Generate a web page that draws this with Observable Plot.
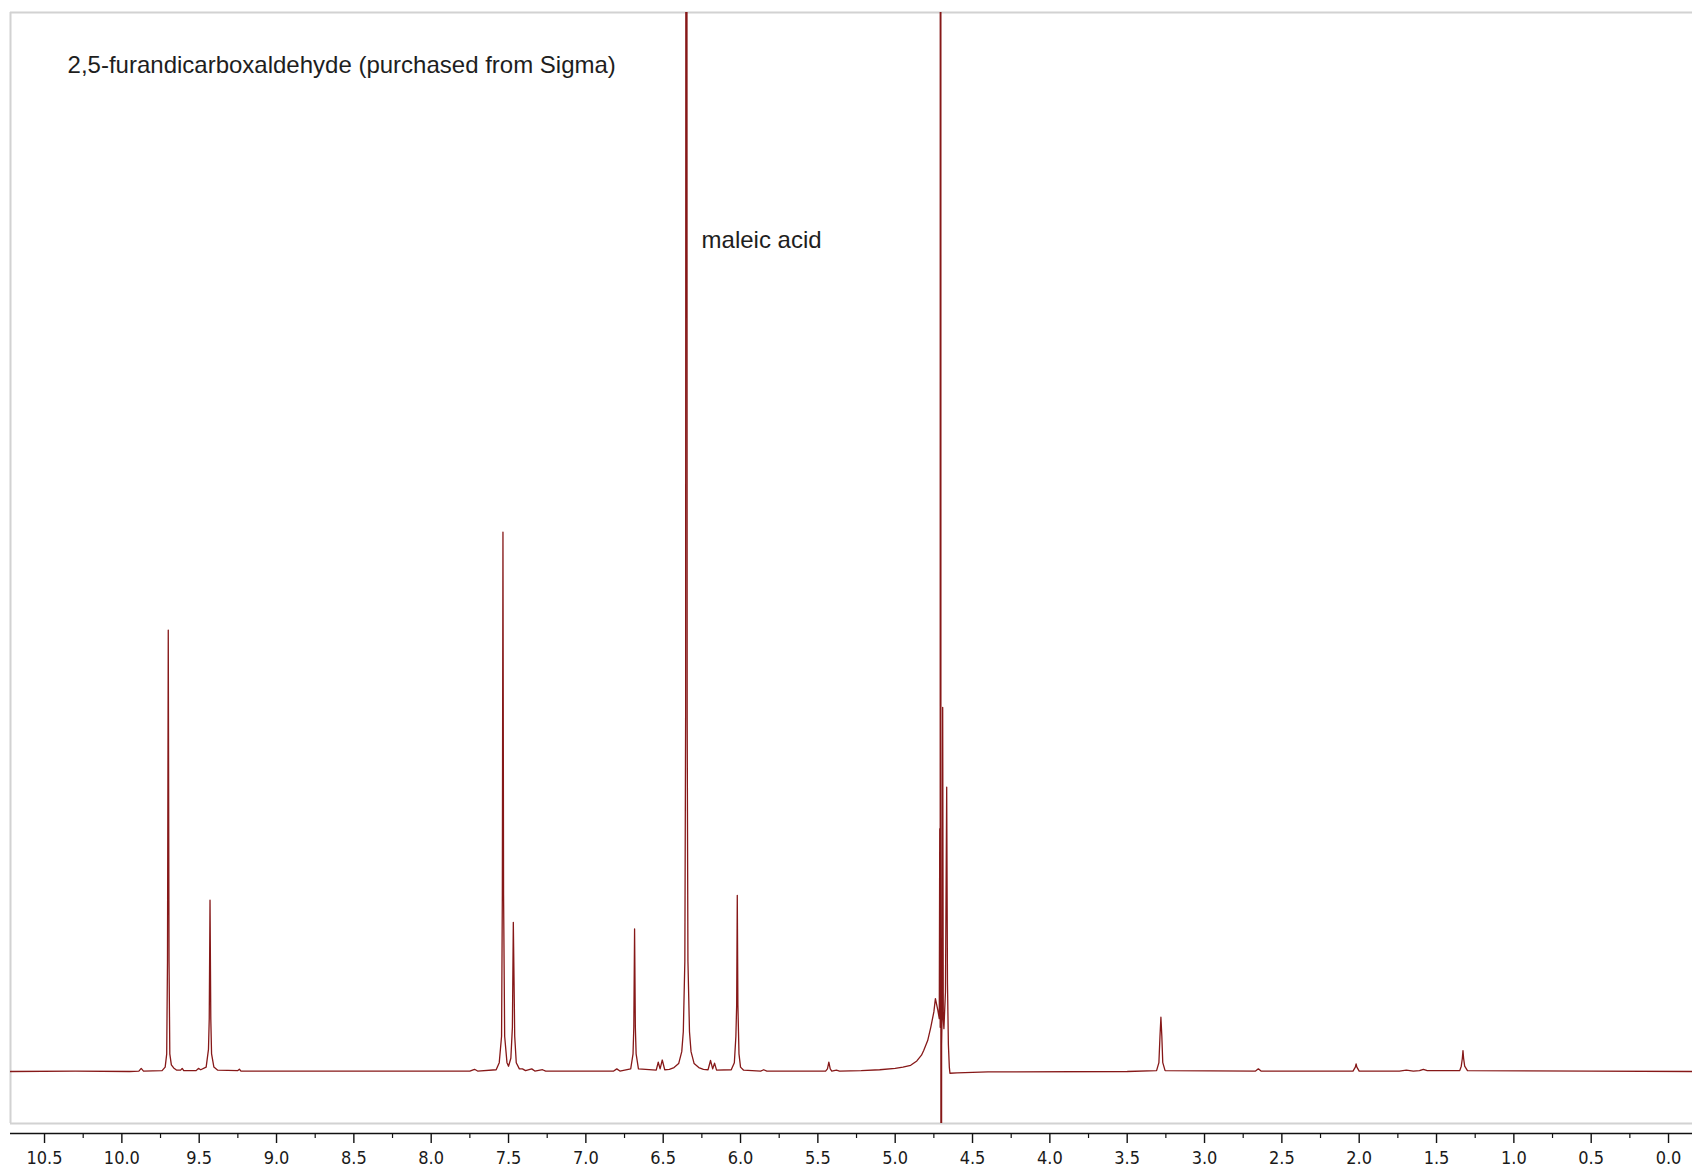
<!DOCTYPE html>
<html>
<head>
<meta charset="utf-8">
<script src="https://cdn.jsdelivr.net/npm/d3@7"></script>
<script src="https://cdn.jsdelivr.net/npm/@observablehq/plot@0.6"></script>
<style>
  html, body { margin: 0; padding: 0; background: #fff; overflow: hidden; }
  #chart svg { display: block; }
</style>
</head>
<body>
<div id="chart"></div>
<script>
// Chemical shift (ppm) and relative intensity (9.70 ppm peak = 100)
const ppm = [
  10.72, 10.30, 9.95, 9.89, 9.875, 9.86, 9.74, 9.72, 9.71, 9.705, 9.700, 9.695, 9.69, 9.68, 9.665, 9.645,
  9.62, 9.61, 9.60, 9.52, 9.505, 9.49, 9.455, 9.44, 9.435, 9.430, 9.425, 9.42, 9.405, 9.38, 9.25, 9.24, 9.23,
  7.75, 7.72, 7.70, 7.58, 7.56, 7.545, 7.54, 7.536, 7.532, 7.525, 7.51, 7.50, 7.485, 7.475, 7.469, 7.46, 7.45,
  7.43, 7.41, 7.39, 7.35, 7.33, 7.28, 7.26, 6.82, 6.80, 6.78, 6.71, 6.695, 6.69, 6.685, 6.68, 6.675, 6.66,
  6.545, 6.532, 6.52, 6.506, 6.49, 6.46, 6.43, 6.40, 6.38, 6.37, 6.36, 6.355, 6.35, 6.345, 6.34, 6.33, 6.32,
  6.30, 6.27, 6.24, 6.21, 6.194, 6.18, 6.168, 6.155, 6.06, 6.04, 6.03, 6.025, 6.021, 6.017, 6.01, 6.00, 5.98,
  5.87, 5.85, 5.83, 5.45, 5.438, 5.429, 5.42, 5.41, 5.38, 5.36, 5.22, 5.10, 5.00, 4.95, 4.90, 4.86, 4.83,
  4.815, 4.79, 4.77, 4.75, 4.74, 4.725, 4.715, 4.712, 4.709, 4.706, 4.703, 4.70, 4.697, 4.693, 4.689, 4.685,
  4.675, 4.667, 4.662, 4.656, 4.65, 4.646, 4.60, 4.40, 3.50, 3.31, 3.295, 3.288, 3.282, 3.276, 3.27, 3.255,
  2.67, 2.652, 2.635, 2.04, 2.025, 2.02, 2.015, 2.00, 1.74, 1.695, 1.65, 1.61, 1.585, 1.56, 1.35, 1.34,
  1.333, 1.329, 1.325, 1.318, 1.30, 0.50, -0.155
];
const intensity = [
  0, 0.1, 0, 0.1, 0.7, 0.1, 0.2, 1.0, 4, 25, 100, 25, 4, 1.5, 0.8, 0.3,
  0.3, 0.7, 0.2, 0.2, 0.7, 0.4, 1, 5, 12, 38.8, 12, 4, 1, 0.3, 0.2, 0.5, 0.1,
  0.1, 0.5, 0.1, 0.4, 2, 8, 40, 122.2, 40, 8, 2, 1.2, 3, 10, 33.8, 8, 2,
  0.6, 0.6, 0.2, 0.6, 0.1, 0.4, 0.1, 0.1, 0.6, 0.1, 0.6, 4, 10, 32.3, 10, 4, 0.6,
  0.3, 2.1, 0.6, 2.6, 0.4, 0.5, 0.9, 1.8, 4.5, 9, 25, 80, 700, 80, 25, 9, 4.5,
  1.8, 0.9, 0.5, 0.4, 2.5, 0.6, 1.9, 0.3, 0.4, 2, 8, 15, 39.9, 15, 4, 1, 0.3,
  0.1, 0.4, 0.1, 0.1, 0.6, 2.1, 0.6, 0.1, 0.3, 0.1, 0.2, 0.4, 0.7, 1.0, 1.4, 2.4, 3.7,
  4.8, 7, 10, 13.5, 16.5, 14, 12, 55, 10, 2000, -2000, 6, 12, 82.5, 12, 9.7,
  18, 64.4, 20, 6, 1, -0.4, -0.3, -0.1, 0, 0.2, 2, 8, 12.3, 8, 2, 0.2,
  0.1, 0.6, 0.1, 0.1, 1, 1.7, 1, 0.1, 0.1, 0.3, 0.1, 0.2, 0.5, 0.2, 0.2, 1.2,
  3, 4.75, 3, 1.2, 0.2, 0.1, 0
];

// Axis ticks (ppm)
const majorTicks = [10.5, 10.0, 9.5, 9.0, 8.5, 8.0, 7.5, 7.0, 6.5, 6.0, 5.5, 5.0, 4.5, 4.0, 3.5, 3.0, 2.5, 2.0, 1.5, 1.0, 0.5, 0.0];
const minorTicks = [10.25, 9.75, 9.25, 8.75, 8.25, 7.75, 7.25, 6.75, 6.25, 5.75, 5.25, 4.75, 4.25, 3.75, 3.25, 2.75, 2.25, 1.75, 1.25, 0.75, 0.25];

// Annotations (text, ppm, intensity)
const noteText = ["2,5-furandicarboxaldehyde (purchased from Sigma)", "maleic acid"];
const notePpm = [10.351, 6.252];
const noteIntensity = [227.9, 188.3];

// Visible window of the spectrum
const xDomain = [10.72, -0.155];
const yDomain = [-11.78, 239.9];

const spectrum = ppm.map((p, i) => ({ppm: p, intensity: intensity[i]}));
const notes = noteText.map((t, i) => ({text: t, ppm: notePpm[i], intensity: noteIntensity[i]}));

const chart = Plot.plot({
  width: 1692,
  height: 1171,
  marginLeft: 10,
  marginRight: 0,
  marginTop: 12,
  marginBottom: 48,
  style: {background: "#fff", overflow: "visible"},
  x: {domain: xDomain, label: null},
  y: {domain: yDomain, axis: null},
  marks: [
    // frame (top, bottom, left)
    Plot.ruleY([yDomain[1]], {stroke: "#d2d2d2", strokeWidth: 2}),
    Plot.ruleY([yDomain[0]], {stroke: "#d2d2d2", strokeWidth: 2}),
    Plot.ruleX([xDomain[0]], {stroke: "#d2d2d2", strokeWidth: 2}),
    // spectrum
    Plot.line(spectrum, {x: "ppm", y: "intensity", stroke: "#861818", strokeWidth: 1.3, clip: true, curve: "linear"}),
    // annotations
    Plot.text(notes, {x: "ppm", y: "intensity", text: "text", textAnchor: "start", fill: "#1e1e1e",
      fontSize: 24, fontFamily: "'Liberation Sans', Arial, sans-serif"}),
    // axis line below the frame
    Plot.ruleY([yDomain[0]], {dy: 10, stroke: "#111", strokeWidth: 1.6}),
    Plot.axisX(majorTicks, {dy: 10, tickSize: 10, tickPadding: 8, tickFormat: d => d.toFixed(1), label: null,
      stroke: "#111", strokeWidth: 1.4, fill: "#1a1a1a", fontSize: 18,
      fontFamily: "'DejaVu Sans Condensed', 'DejaVu Sans', Verdana, sans-serif"}),
    Plot.axisX(minorTicks, {dy: 10, tickSize: 5, tickFormat: () => "", label: null, stroke: "#111", strokeWidth: 1.2})
  ]
});

document.getElementById("chart").appendChild(chart);
</script>
</body>
</html>
